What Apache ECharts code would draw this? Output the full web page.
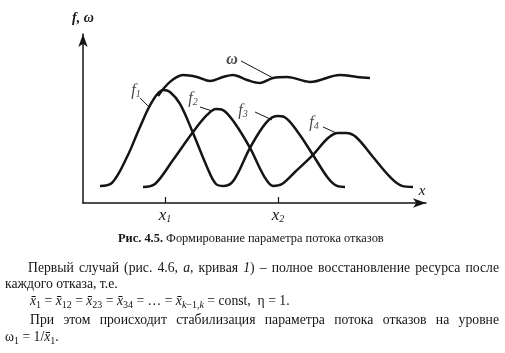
<!DOCTYPE html>
<html><head><meta charset="utf-8">
<script src="https://cdn.jsdelivr.net/npm/echarts@6/dist/echarts.min.js"></script>
<style>html,body{margin:0;padding:0;background:#fff}#c{width:505px;height:353px}</style>
</head><body><div id="c"></div>
<script>
// ---- data (abstract units) ----
const X_MAX = 34.3, Y_MAX = 9.6;
const tickValues = [8.2, 19.5];
const tickSubs = ['1', '2'];
const curveOdd = [ // f1 then f3
  [1.7,0.97],[2.9,1.14],[4.4,2.61],[5.7,4.32],[6.9,5.74],[8.0,6.42],[8.7,6.31],[9.7,5.63],
  [11.0,3.98],[12.4,2.05],[13.3,1.08],[14.1,0.97],[15.1,1.31],[16.7,3.13],[18.3,4.55],
  [19.4,4.94],[20.1,4.89],[21.4,4.09],[23.0,2.73],[24.5,1.42],[25.4,0.97],[26.2,0.91]
];
const curveEven = [ // f2 then f4
  [6.0,0.91],[7.2,1.08],[9.0,2.44],[11.0,4.03],[12.4,5.0],[13.3,5.34],[14.0,5.28],[15.1,4.6],
  [16.7,3.13],[18.1,1.53],[19.0,0.97],[19.9,1.08],[21.2,1.76],[23.0,2.73],[24.5,3.69],
  [25.5,3.98],[26.3,3.98],[27.3,3.75],[29.0,2.61],[30.7,1.48],[31.9,0.97],[33.0,0.91]
];
const omegaCurve = [
  [7.5,6.08],[8.7,6.88],[10.0,7.27],[11.4,7.16],[12.7,6.93],[14.0,7.16],[15.0,7.27],[16.4,6.99],
  [17.7,6.82],[19.0,7.10],[20.4,7.16],[22.7,6.88],[25.7,7.27],[27.4,7.16],[28.7,7.10]
];
const annoNames = ['f1','f2','f3','f4','w'];
const annoAt   = [[5.3,6.36],[11.0,5.91],[16.0,5.23],[23.1,4.55],[14.9,8.12]];
const annoFrom = [[5.7,5.97],[11.7,5.45],[17.2,5.17],[24.0,4.32],[15.8,8.07]];
const annoTo   = [[6.7,5.40],[12.9,5.23],[18.9,4.72],[25.3,3.98],[19.0,7.10]];

const INK = '#151515';
const FAM = '"Liberation Serif","Times New Roman",serif';

const chart = echarts.init(document.getElementById('c'), null, {renderer:'canvas'});

const curveStyle = {type:'line', smooth:0.35, showSymbol:false, silent:true,
  lineStyle:{color:INK, width:2.5}, z:3};

chart.setOption({
  backgroundColor:'#fff',
  animation:false,
  grid:{left:83, right:79, top:34, bottom:150, containLabel:false},
  xAxis:{type:'value', min:0, max:X_MAX,
    name:'x', nameLocation:'end', nameGap:-4,
    nameTextStyle:{fontFamily:FAM, fontStyle:'italic', fontSize:15, color:INK, align:'center', verticalAlign:'bottom', padding:[0,0,4,0]},
    axisLine:{show:true, symbol:['none','arrow'], symbolSize:[7,13], lineStyle:{color:INK, width:1.5}},
    axisTick:{show:true, customValues:tickValues, inside:true, length:6, lineStyle:{color:INK, width:1.2}},
    axisLabel:{show:true, customValues:tickValues, margin:5,
      formatter:(v)=>{const k = Math.abs(v-tickValues[0])<1e-6?0:1; return '{x|x}{s|'+tickSubs[k]+'}';},
      rich:{x:{fontFamily:FAM, fontStyle:'italic', fontSize:17, color:INK, lineHeight:16},
            s:{fontFamily:FAM, fontStyle:'italic', fontSize:10, color:INK, lineHeight:10, verticalAlign:'bottom'}}},
    splitLine:{show:false}},
  yAxis:{type:'value', min:0, max:Y_MAX,
    name:'f, ω', nameLocation:'end', nameGap:9,
    nameTextStyle:{fontFamily:FAM, fontStyle:'italic', fontWeight:'bold', fontSize:14, color:INK, align:'center'},
    axisLine:{show:true, symbol:['none','arrow'], symbolSize:[7,13], lineStyle:{color:INK, width:1.5}},
    axisTick:{show:false}, axisLabel:{show:false}, splitLine:{show:false}},
  series:[
    Object.assign({name:'f odd', data:curveOdd}, curveStyle),
    Object.assign({name:'f even', data:curveEven}, curveStyle),
    Object.assign({name:'omega', data:omegaCurve}, curveStyle),
    {type:'lines', coordinateSystem:'cartesian2d', silent:true, z:2,
      lineStyle:{color:INK, width:1, opacity:1},
      data: annoFrom.map((f,k)=>({coords:[f, annoTo[k]]}))},
    {type:'scatter', symbolSize:0, silent:true, z:4,
      data: annoAt.map((a,k)=>({value:a, name:annoNames[k]})),
      label:{show:true, position:'inside',
        formatter:(p)=> p.name==='w' ? '{w|ω}' : '{f|f}{s|'+p.name.slice(1)+'}',
        rich:{f:{fontFamily:FAM, fontStyle:'italic', fontSize:16, color:INK, lineHeight:16},
              s:{fontFamily:FAM, fontStyle:'italic', fontSize:10, color:INK, lineHeight:9, verticalAlign:'bottom'},
              w:{fontFamily:FAM, fontStyle:'italic', fontWeight:'bold', fontSize:16, color:INK}}}}
  ]
});

// ---- caption and body text ----
const ctx = document.createElement('canvas').getContext('2d');
function n(t){return {t};} function it(t){return {t, i:true};} function bd(t){return {t, b:true};}
function sb(t,i){return {t, sub:true, i:!!i};}
function fontOf(g,size){const sz = g.sub? Math.round(size*0.7):size; return (g.i?'italic ':'')+(g.b?'bold ':'')+sz+'px '+FAM;}
function segW(g,size){ctx.font = fontOf(g,size); return ctx.measureText(g.t).width;}
function toWords(arr){return arr.map(w => typeof w==='string' ? [n(w)] : (Array.isArray(w)? w : [w]));}
function layoutLine(words, x0, y, size, x1, spaceScale){
  words = toWords(words);
  const ws = words.map(w=>w.reduce((s,g)=>s+segW(g,size),0));
  const total = ws.reduce((a,b)=>a+b,0);
  ctx.font = size+'px '+FAM; const sp = ctx.measureText(' ').width*(spaceScale||1);
  const gap = x1 ? (x1-x0-total)/(words.length-1) : sp;
  let x = x0; const out=[];
  words.forEach(w=>{ w.forEach(g=>{
    out.push({type:'text', x:x, y:y+(g.sub? size*0.3:0), silent:true,
      style:{text:g.t, font:fontOf(g,size), fill:INK, align:'left', verticalAlign:'middle'}});
    x += segW(g,size); }); x += gap; });
  return out;
}
let els = [];
els = els.concat(layoutLine([[bd('Рис. 4.5.')], 'Формирование', 'параметра', 'потока', 'отказов'], 118, 239, 12.4));
const S = 13.7;
els = els.concat(layoutLine(['Первый','случай','(рис.','4.6,',[it('a'),n(',')],'кривая',[it('1'),n(')')],'–','полное','восстановление','ресурса','после'], 28, 268, S, 499));
els = els.concat(layoutLine(['каждого','отказа,','т.е.'], 5, 284, S));
const xb = 'x\u0304';
els = els.concat(layoutLine([
  [it(xb), sb('1')], '=', [it(xb), sb('12')], '=', [it(xb), sb('23')], '=', [it(xb), sb('34')], '=', '…', '=',
  [it(xb), sb('k',1), sb('−1,'), sb('k',1)], '=', 'const,', '', 'η', '=', '1.'], 30, 301, S));
els = els.concat(layoutLine(['При','этом','происходит','стабилизация','параметра','потока','отказов','на','уровне'], 30, 320, S, 499));
els = els.concat(layoutLine([[n('ω'), sb('1')], '=', [n('1/'), it(xb), sb('1'), n('.')]], 5, 337, S));
chart.setOption({graphic: els});
</script></body></html>
